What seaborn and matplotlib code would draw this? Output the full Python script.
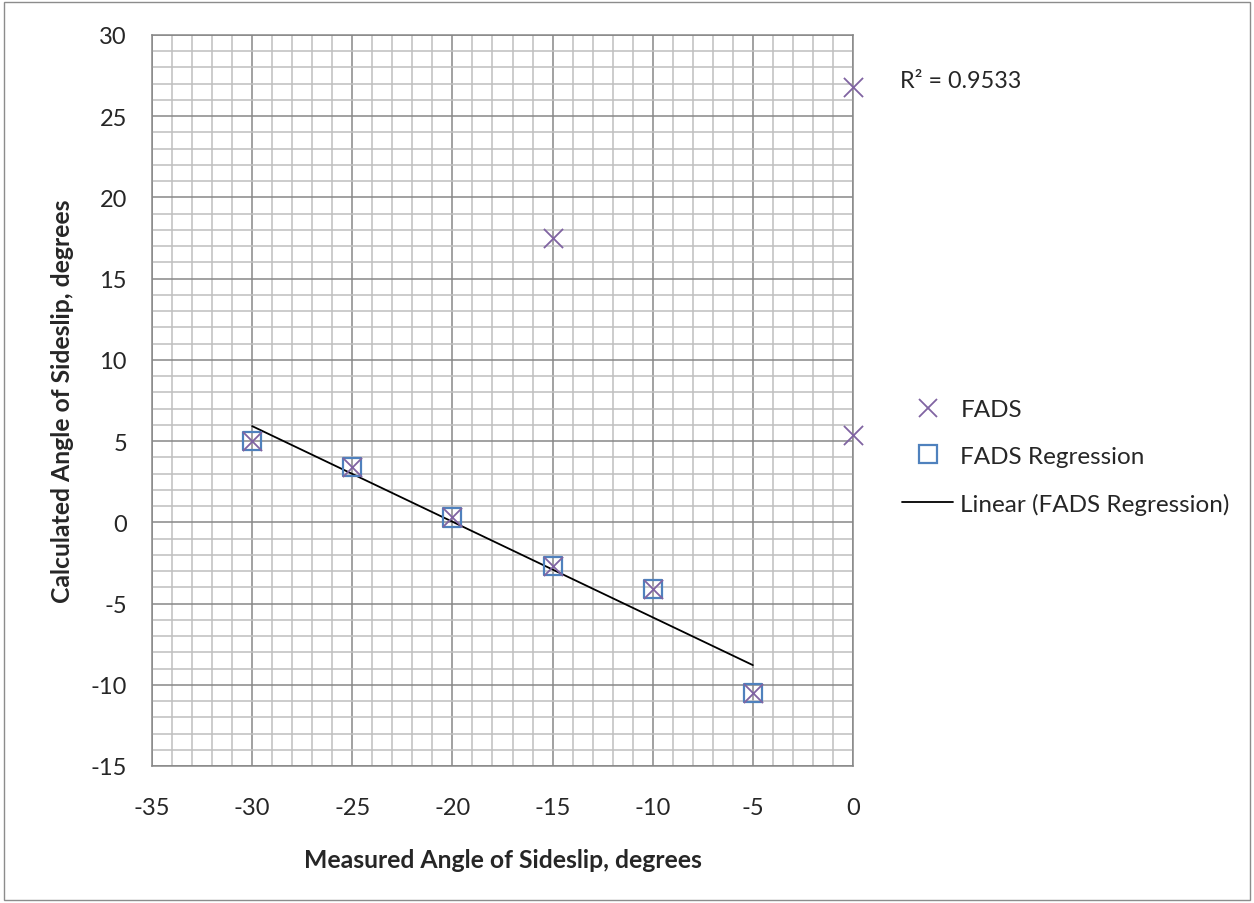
import numpy as np
import pandas as pd
import matplotlib
matplotlib.use('Agg')
import matplotlib.pyplot as plt
from matplotlib.lines import Line2D
from matplotlib.patches import Rectangle
from matplotlib.ticker import MultipleLocator
import seaborn as sns

# values
fads_x = [-30, -25, -20, -15, -10, -5, -15, 0, 0]
fads_y = [5.0, 3.4, 0.3, -2.7, -4.1, -10.5, 17.5, 26.8, 5.4]
reg_x = [-30, -25, -20, -15, -10, -5]
reg_y = [5.0, 3.4, 0.3, -2.7, -4.1, -10.5]
r2_label = 'R² = 0.9533'
x_ticks = [-35, -30, -25, -20, -15, -10, -5, 0]
y_ticks = [-15, -10, -5, 0, 5, 10, 15, 20, 25, 30]

fads = pd.DataFrame({'x': fads_x, 'y': fads_y})
reg = pd.DataFrame({'x': reg_x, 'y': reg_y})

sns.set_style('white')
plt.rcParams['font.family'] = ['Lato', 'DejaVu Sans']
plt.rcParams['axes.unicode_minus'] = False

purple = '#8064A2'
blue = '#4F81BD'
major_c = '#878787'
minor_c = '#BFBFBF'

fig = plt.figure(figsize=(12.54, 9.04), dpi=100)
ax = fig.add_axes([152 / 1254, 1 - 767 / 904, 701 / 1254, 731 / 904])

ax.set_xlim(-35, 0)
ax.set_ylim(-15, 30)
ax.xaxis.set_major_locator(MultipleLocator(5))
ax.yaxis.set_major_locator(MultipleLocator(5))
ax.xaxis.set_minor_locator(MultipleLocator(1))
ax.yaxis.set_minor_locator(MultipleLocator(1))
ax.grid(which='minor', color=minor_c, lw=1.1, zorder=0)
ax.grid(which='major', color=major_c, lw=1.1, zorder=0)
ax.set_axisbelow(True)
for s in ax.spines.values():
    s.set_color(major_c)
    s.set_linewidth(1.1)

# trendline of the regression series
sns.regplot(data=reg, x='x', y='y', scatter=False, ci=None, truncate=True,
            color='black', line_kws={'lw': 1.3}, ax=ax)
sns.scatterplot(data=reg, x='x', y='y', marker='s', s=170, facecolor='none',
                edgecolor=blue, linewidth=1.6, ax=ax, zorder=4, clip_on=False)
sns.scatterplot(data=fads, x='x', y='y', marker='x', s=190, color=purple,
                linewidth=1.3, ax=ax, zorder=5, clip_on=False)

ax.set_xticks(x_ticks)
ax.set_yticks(y_ticks)
ax.tick_params(axis='both', which='both', length=0, labelsize=17)
ax.tick_params(axis='x', pad=22)
ax.tick_params(axis='y', pad=18)
ax.set_xlabel('Measured Angle of Sideslip, degrees', fontsize=17.8,
              fontweight='bold', labelpad=22)
ax.set_ylabel('Calculated Angle of Sideslip, degrees', fontsize=17.8,
              fontweight='bold', labelpad=12)

fig.text(900 / 1254, 1 - 82 / 904, r2_label, fontsize=16.8, va='center',
         ha='left')

handles = [
    Line2D([], [], ls='none', marker='x', color=purple, markersize=13.5,
           markeredgewidth=1.3),
    Line2D([], [], ls='none', marker='s', markerfacecolor='none',
           markeredgecolor=blue, markersize=12.5, markeredgewidth=1.6),
    Line2D([], [], color='black', lw=1.3),
]
labels = ['FADS', 'FADS Regression', 'Linear (FADS Regression)']
fig.legend(handles, labels, loc='center left',
           bbox_to_anchor=(902 / 1254, 1 - 458 / 904), frameon=False,
           fontsize=17.5, handlelength=2.1, handletextpad=0.3,
           labelspacing=1.05, borderpad=0, borderaxespad=0)

fig.add_artist(Rectangle((0.003, 0.003), 0.994, 0.994,
                         transform=fig.transFigure, fill=False,
                         edgecolor='#8c8c8c', lw=1))

fig.savefig('out.png', dpi=100)
